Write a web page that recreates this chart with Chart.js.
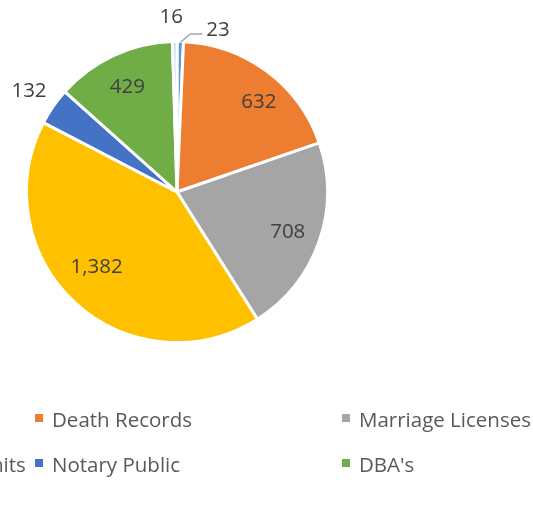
<!DOCTYPE html>
<html>
<head>
<meta charset="utf-8">
<script src="https://cdn.jsdelivr.net/npm/chart.js@4.4.1/dist/chart.umd.min.js"></script>
<style>
    html, body { margin: 0; padding: 0; background: #fff; overflow: hidden; }
    #wrap { position: relative; width: 533px; height: 521px; overflow: hidden; }
    #c { position: absolute; left: 0; top: 0; }
    .lg { position: absolute; display: flex; align-items: center; white-space: nowrap;
          font: 20.5px "Open Sans", sans-serif; color: #595959; height: 24px; }
    .lg i { display: inline-block; width: 8px; height: 8px; margin-right: 9px; margin-top: -2px; }
</style>
</head>
<body>
<div id="wrap">
    <canvas id="c" width="533" height="521"></canvas>
    <div id="legend"></div>
</div>
<script>
const labels = ['Birth Records', 'Death Records', 'Marriage Licenses', 'Concealed Hand Gun Permits',
                'Notary Public', "DBA's", 'Other'];
const counts = [23, 632, 708, 1382, 132, 429, 16];
const colors = ['#5B9BD5', '#ED7D31', '#A5A5A5', '#FFC000', '#4472C4', '#70AD47', '#C5D6EC'];

// value labels, Excel style (inside for big slices, outside for small)
const valueLabels = {
    id: 'valueLabels',
    afterDatasetsDraw(chart, args, opts) {
        const ctx = chart.ctx;
        const meta = chart.getDatasetMeta(0);
        const fs = 20.5;
        const half = fs * 0.357; // half of digit height
        ctx.save();
        ctx.font = fs + 'px "Open Sans", sans-serif';
        ctx.fillStyle = '#404040';
        ctx.textBaseline = 'alphabetic';
        meta.data.forEach(function(arc, i) {
            const p = arc.getProps(['x', 'y', 'startAngle', 'endAngle', 'outerRadius'], true);
            const txt = counts[i].toLocaleString('en-US');
            let mid = (p.startAngle + p.endAngle) / 2;
            if (opts.leader.indexOf(i) >= 0) {
                const sx = p.x + Math.cos(mid) * (p.outerRadius - 1);
                const sy = p.y + Math.sin(mid) * (p.outerRadius - 1);
                ctx.strokeStyle = '#A6A6A6';
                ctx.lineWidth = 1.5;
                ctx.beginPath();
                ctx.moveTo(sx, sy);
                ctx.lineTo(sx + 10, sy - 8.5);
                ctx.lineTo(sx + 22, sy - 8.5);
                ctx.stroke();
                ctx.textAlign = 'left';
                ctx.fillText(txt, sx + 26, sy - 13.5 + half);
                return;
            }
            mid += opts.shift[i] * Math.PI / 180;
            const r = p.outerRadius * opts.radial[i];
            ctx.textAlign = 'center';
            ctx.fillText(txt, p.x + Math.cos(mid) * r, p.y + Math.sin(mid) * r + half);
        });
        ctx.restore();
    }
};

new Chart(document.getElementById('c'), {
    type: 'pie',
    data: {
        labels: labels,
        datasets: [{
            data: counts,
            backgroundColor: colors,
            borderColor: '#ffffff',
            borderWidth: 3
        }]
    },
    options: {
        responsive: false,
        animation: false,
        layout: { padding: { left: 25, right: 204, top: 40, bottom: 177 } },
        plugins: {
            legend: { display: false },
            tooltip: { enabled: false },
            valueLabels: {
                radial: [1.0, 0.817, 0.78, 0.724, 1.195, 0.78, 1.17],
                shift: [0, 5, 0, 5, 0, 0, -1],
                leader: [0]
            }
        }
    },
    plugins: [valueLabels]
});

// legend in three fixed columns, first column falls off the left edge
const legend = document.getElementById('legend');
labels.forEach(function(name, i) {
    const el = document.createElement('div');
    el.className = 'lg';
    el.style.left = (-272 + (i % 3) * 307) + 'px';
    el.style.top = (407 + Math.floor(i / 3) * 45) + 'px';
    el.innerHTML = '<i style="background:' + colors[i] + '"></i>' + name;
    legend.appendChild(el);
});
</script>
</body>
</html>
